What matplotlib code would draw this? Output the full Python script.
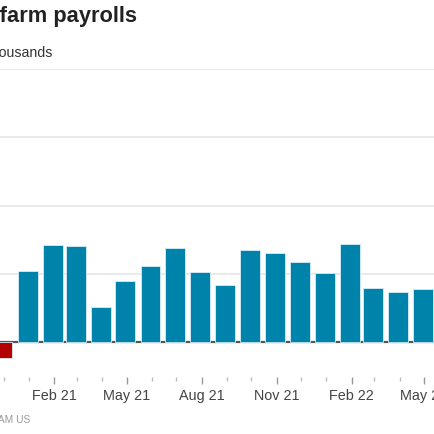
import numpy as np
import pandas as pd
import matplotlib.pyplot as plt
import matplotlib.dates as mdates

# monthly change in nonfarm payrolls, thousands
months = pd.date_range('2020-12-01', '2022-05-01', freq='MS')
jobs = [-115, 522, 712, 705, 261, 449, 556, 690, 517, 422,
        678, 651, 590, 505, 717, 395, 368, 388]
title = 'Nonfarm payrolls'
subtitle = 'Thousands'
source = 'SOURCE: DATASTREAM US'

plt.rcParams['font.family'] = ['Liberation Sans', 'DejaVu Sans']
W, H = 435, 435
fig = plt.figure(figsize=(W / 100, H / 100), dpi=100)

# plot area in pixels: 2000 at y=70, 0 at y=343.3, x: Jan 21 at 29, May 22 at 424
px_per_k = (343.3 - 70) / 2000
ybot = -(378 - 343.3) / px_per_k
ax = fig.add_axes([0, (H - 378) / H, 1, (378 - 70) / H])
d0 = mdates.date2num(pd.Timestamp('2021-01-01'))
d1 = mdates.date2num(pd.Timestamp('2022-05-01'))
ppd = (424 - 29) / (d1 - d0)
ax.set_xlim(d0 - 29 / ppd, d0 + (W - 29) / ppd)
ax.set_ylim(ybot, 2000)

for g in [500, 1000, 1500, 2000]:
    ax.axhline(g, color='#e6e6e6', lw=1.2, zorder=0)
ax.axhline(0, color='#555555', lw=1.6, zorder=1)

colors = ['#b30000' if v < 0 else '#0083ab' for v in jobs]
x = mdates.date2num(months) - 1.8
ax.bar(x, jobs, width=24.5, color=colors, edgecolor='#d6eef6', linewidth=0.6, zorder=2)

ax.xaxis.set_major_locator(mdates.MonthLocator(bymonth=[2, 5, 8, 11]))
ax.xaxis.set_minor_locator(mdates.MonthLocator())
ax.xaxis.set_major_formatter(mdates.DateFormatter('%b %y'))
ax.tick_params(axis='x', which='major', length=5, width=1, color='#999999',
               labelsize=10.4, labelcolor='#444444', pad=3)
ax.tick_params(axis='x', which='minor', length=3, width=1, color='#bbbbbb')
ax.tick_params(axis='y', left=False, labelleft=False)
for s in ax.spines.values():
    s.set_visible(False)

fig.text(136.7 / W, 1 - 22 / H, title, ha='right', va='baseline',
         fontsize=15.75, fontweight='bold', color='#222222')
fig.text(53.3 / W, 1 - 57 / H, subtitle, ha='right', va='baseline',
         fontsize=10.2, color='#333333')
fig.text(30 / W, 1 - 420 / H, source, ha='right', va='center',
         fontsize=7.4, color='#9a9a9a')

fig.savefig('out.png', dpi=100)
